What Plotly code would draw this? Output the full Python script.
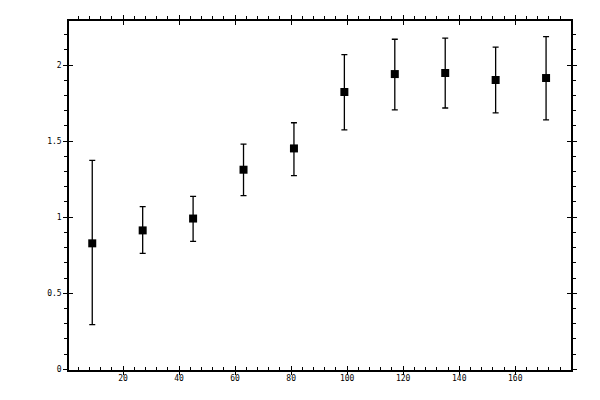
import plotly.graph_objects as go

# measured points (x, y) with asymmetric error bars
x_values = [9, 27, 45, 63, 81, 99, 117, 135, 153, 171]
y_values = [0.828, 0.913, 0.991, 1.312, 1.452, 1.823, 1.941, 1.948, 1.902, 1.915]
y_upper = [1.373, 1.070, 1.137, 1.480, 1.621, 2.069, 2.170, 2.177, 2.118, 2.187]
y_lower = [0.294, 0.762, 0.841, 1.142, 1.273, 1.574, 1.705, 1.718, 1.686, 1.640]

err_plus = [u - y for u, y in zip(y_upper, y_values)]
err_minus = [y - l for y, l in zip(y_values, y_lower)]

x_range = [0.7, 179.9]
y_range = [-0.005, 2.29]
tick_font = dict(family="DejaVu Sans Mono", size=8, color="black")

fig = go.Figure()

fig.add_trace(go.Scatter(
    x=x_values,
    y=y_values,
    mode='markers',
    marker=dict(symbol='square', size=8, color='black'),
    error_y=dict(
        type='data',
        symmetric=False,
        array=err_plus,
        arrayminus=err_minus,
        color='black',
        thickness=1.3,
        width=3
    ),
    showlegend=False,
    hoverinfo='skip'
))

# invisible copies so the extra tick axes get drawn
for n in [2, 3, 4]:
    fig.add_trace(go.Scatter(
        x=x_values, y=y_values, mode='markers',
        marker=dict(opacity=0), xaxis='x%d' % n, yaxis='y%d' % n,
        showlegend=False, hoverinfo='skip'
    ))

common = dict(showgrid=False, zeroline=False, tickcolor='black', tickwidth=1, ticklen=4)

x_common = dict(common, range=x_range, tick0=0, dtick=20, anchor='y')
y_common = dict(common, range=y_range, tick0=0, dtick=0.5, anchor='x')

fig.update_layout(
    width=600,
    height=400,
    # page body adds an 8px offset, so margins are shifted to compensate
    margin=dict(l=61, r=37, t=9, b=38),
    paper_bgcolor='white',
    plot_bgcolor='white',
    # bottom: labels, major crossing, minor inside
    xaxis=dict(x_common, side='bottom', ticks='inside', showline=True,
               linecolor='black', linewidth=1.5, tickfont=tick_font,
               minor=dict(ticks='inside', ticklen=3, dtick=4, tick0=0,
                          tickcolor='black', tickwidth=1)),
    xaxis2=dict(x_common, side='bottom', ticks='outside', overlaying='x',
                showticklabels=False, showline=False),
    # top: major crossing, minor outside
    xaxis3=dict(x_common, side='top', ticks='outside', overlaying='x',
                showticklabels=False, showline=True, linecolor='black', linewidth=1.5,
                minor=dict(ticks='outside', ticklen=3, dtick=4, tick0=0,
                           tickcolor='black', tickwidth=1)),
    xaxis4=dict(x_common, side='top', ticks='inside', overlaying='x',
                showticklabels=False, showline=False),
    # left: labels, major crossing, minor outside
    yaxis=dict(y_common, side='left', ticks='outside', showline=True,
               linecolor='black', linewidth=1.5, tickfont=tick_font,
               minor=dict(ticks='outside', ticklen=3, dtick=0.1, tick0=0,
                          tickcolor='black', tickwidth=1)),
    yaxis2=dict(y_common, side='left', ticks='inside', overlaying='y',
                showticklabels=False, showline=False),
    # right: major crossing, minor outside
    yaxis3=dict(y_common, side='right', ticks='outside', overlaying='y',
                showticklabels=False, showline=True, linecolor='black', linewidth=1.5,
                minor=dict(ticks='outside', ticklen=3, dtick=0.1, tick0=0,
                           tickcolor='black', tickwidth=1)),
    yaxis4=dict(y_common, side='right', ticks='inside', overlaying='y',
                showticklabels=False, showline=False),
)

fig.write_html("out.html")
